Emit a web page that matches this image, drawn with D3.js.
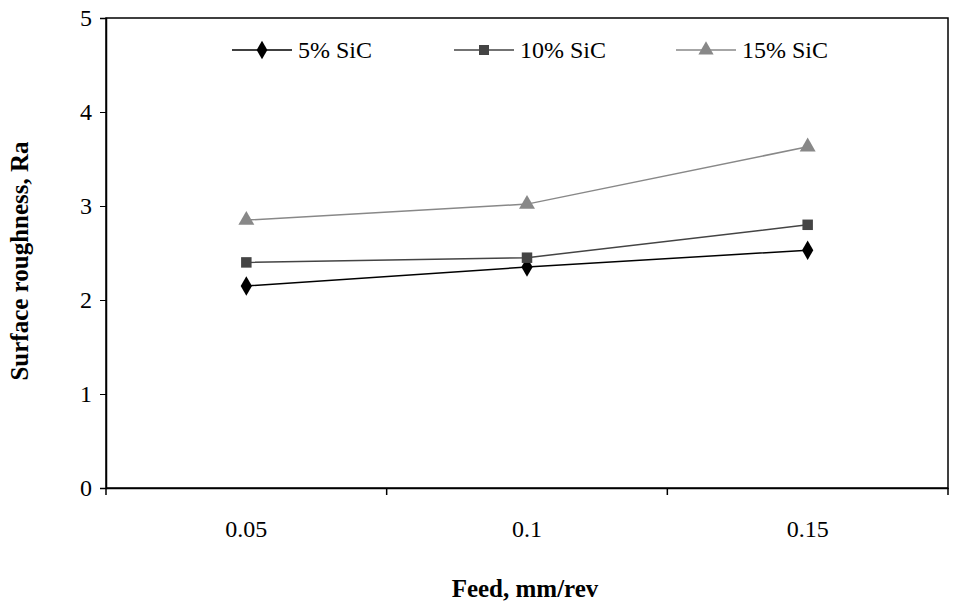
<!DOCTYPE html>
<html><head><meta charset="utf-8">
<script src="https://cdn.jsdelivr.net/npm/d3@7"></script>
<style>body{margin:0;background:#fff}</style>
</head><body>
<svg id="c" width="961" height="609"></svg>
<script>
var feeds = ['0.05', '0.1', '0.15'];
var sic5 = [2.15, 2.35, 2.53];
var sic10 = [2.40, 2.45, 2.80];
var sic15 = [2.85, 3.02, 3.63];
var yTicks = [0, 1, 2, 3, 4, 5];

var series = [
  {name: '5% SiC', values: sic5, color: '#000', shape: d3.symbolDiamond},
  {name: '10% SiC', values: sic10, color: '#444', shape: d3.symbolSquare},
  {name: '15% SiC', values: sic15, color: '#888', shape: d3.symbolTriangle}
];

var svg = d3.select('#c'),
    m = {left: 106, right: 948, top: 18, bottom: 488},
    font = '"Liberation Serif", "Times New Roman", serif';

var x = d3.scaleBand().domain(feeds).range([m.left, m.right]);
var y = d3.scaleLinear().domain([0, 5]).range([m.bottom, m.top]);

svg.append('rect')
    .attr('x', m.left).attr('y', m.top)
    .attr('width', m.right - m.left).attr('height', m.bottom - m.top)
    .style('fill', 'none').style('stroke', '#000').style('stroke-width', 1.5);

var ya = svg.append('g')
    .attr('transform', 'translate(' + m.left + ',0)')
    .call(d3.axisLeft(y).tickValues(yTicks).tickFormat(d3.format('d')).tickSize(6).tickPadding(8));
var xa = svg.append('g')
    .attr('transform', 'translate(0,' + m.bottom + ')')
    .call(d3.axisBottom(x).tickSize(0).tickPadding(32));
xa.selectAll('.boundary').data(d3.range(feeds.length + 1)).enter().append('line')
    .attr('x1', function(i) { return m.left + i * x.step(); })
    .attr('x2', function(i) { return m.left + i * x.step(); })
    .attr('y1', 0).attr('y2', 7).style('stroke', '#000').style('stroke-width', 1.5);
[ya, xa].forEach(function(a) {
  a.select('.domain').style('stroke-width', 1.5);
  a.selectAll('text').style('font-family', font).style('font-size', '24px').style('fill', '#000');
});

var line = d3.line()
    .x(function(d, i) { return x(feeds[i]) + x.bandwidth() / 2; })
    .y(function(d) { return y(d); });

series.forEach(function(s) {
  svg.append('path').attr('d', line(s.values))
      .style('fill', 'none').style('stroke', s.color).style('stroke-width', 1.5);
  svg.selectAll(null).data(s.values).enter().append('path')
      .attr('transform', function(d, i) {
        return 'translate(' + (x(feeds[i]) + x.bandwidth() / 2) + ',' + y(d) + ')';
      })
      .attr('d', d3.symbol().type(s.shape).size(110))
      .style('fill', s.color);
});

var leg = svg.append('g').attr('transform', 'translate(232,50)');
series.forEach(function(s, i) {
  var g = leg.append('g').attr('transform', 'translate(' + (i * 222) + ',0)');
  g.append('line').attr('x1', 0).attr('x2', 60).style('stroke', s.color).style('stroke-width', 1.5);
  g.append('path').attr('transform', 'translate(30,0)')
      .attr('d', d3.symbol().type(s.shape).size(100)).style('fill', s.color);
  g.append('text').attr('x', 66).attr('y', 8).text(s.name)
      .style('font-family', font).style('font-size', '24px');
});

svg.append('text').attr('x', (m.left + m.right) / 2 - 2).attr('y', 597)
    .attr('text-anchor', 'middle').text('Feed, mm/rev')
    .style('font-family', font).style('font-size', '25px').style('font-weight', 'bold');
svg.append('text').attr('transform', 'translate(28,' + ((m.top + m.bottom) / 2 + 8) + ') rotate(-90)')
    .attr('text-anchor', 'middle').text('Surface roughness, Ra')
    .style('font-family', font).style('font-size', '25px').style('font-weight', 'bold');
</script>
</body></html>
